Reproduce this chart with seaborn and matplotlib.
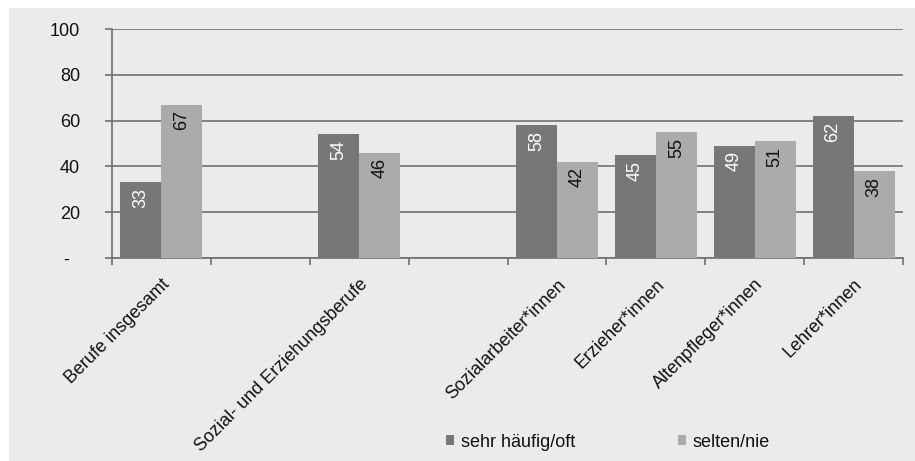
import numpy as np
import pandas as pd
import matplotlib
matplotlib.use("Agg")
import matplotlib.pyplot as plt
from matplotlib.patches import Rectangle
from matplotlib.ticker import FixedLocator
import seaborn as sns

# ── Data ───────────────────────────────────────────
slot_order = ["Berufe insgesamt", "_gap1", "Sozial- und Erziehungsberufe", "_gap2",
              "Sozialarbeiter*innen", "Erzieher*innen", "Altenpfleger*innen",
              "Lehrer*innen"]
categories = ["Berufe insgesamt", "Sozial- und Erziehungsberufe",
              "Sozialarbeiter*innen", "Erzieher*innen", "Altenpfleger*innen",
              "Lehrer*innen"]
oft    = [33, 54, 58, 45, 49, 62]
selten = [67, 46, 42, 55, 51, 38]
series = ["sehr häufig/oft", "selten/nie"]
y_ticks  = [0, 20, 40, 60, 80, 100]
y_labels = ["-  ", "20", "40", "60", "80", "100"]

df = pd.DataFrame({
    "Beruf": categories * 2,
    "Serie": [series[0]] * len(oft) + [series[1]] * len(selten),
    "Wert":  oft + selten,
})

DARK  = "#777777"
LIGHT = "#ababab"
GRID  = "#707070"

sns.set_theme(style="white")
plt.rcParams["font.family"] = ["Liberation Sans", "DejaVu Sans"]

fig = plt.figure(figsize=(9.15, 4.61), dpi=100, facecolor="white")
fig.patches.append(Rectangle((9 / 915, 0), 1, 1 - 8 / 461,
                             transform=fig.transFigure, facecolor="#ebebeb",
                             edgecolor="none", zorder=-10))
ax = fig.add_axes([112 / 915, 1 - 258 / 461, (903 - 112) / 915, (258 - 29) / 461])
ax.set_facecolor("none")

sns.barplot(data=df, x="Beruf", y="Wert", hue="Serie", order=slot_order,
            hue_order=series, palette=[DARK, LIGHT], width=0.83,
            linewidth=0, saturation=1, ax=ax, legend=False, zorder=3)

# ── Value labels ───────────────────────────────────
for cont, col in zip(ax.containers, ["white", "#111111"]):
    for bar, val in zip(cont, cont.datavalues):
        ax.annotate(f"{val:.0f}",
                    (bar.get_x() + bar.get_width() / 2, bar.get_height()),
                    xytext=(0, -4), textcoords="offset points",
                    ha="center", va="top", rotation=90,
                    fontsize=13, color=col, zorder=4)

# ── Axes ───────────────────────────────────────────
ax.set_ylim(0, 100)
ax.set_xlim(-0.5, len(slot_order) - 0.5)
ax.set_yticks(y_ticks)
ax.set_yticklabels(y_labels, fontsize=13, color="#111111")
ax.yaxis.grid(True, color=GRID, linewidth=1.2)
ax.set_axisbelow(True)
ax.tick_params(axis="y", length=5, width=1.2, color=GRID, pad=18, left=True)

ax.set_xticks(range(len(slot_order)))
ax.set_xticklabels(["" if s.startswith("_gap") else s for s in slot_order],
                   rotation=45, ha="right", rotation_mode="anchor",
                   fontsize=13, color="#111111")
ax.tick_params(axis="x", which="major", length=0, pad=13)
ax.xaxis.set_minor_locator(FixedLocator(np.arange(-0.5, len(slot_order), 1)))
ax.tick_params(axis="x", which="minor", length=5, width=1.2, color=GRID,
               bottom=True)

ax.set_xlabel("")
ax.set_ylabel("")
for side in ["top", "right"]:
    ax.spines[side].set_visible(False)
for side in ["left", "bottom"]:
    ax.spines[side].set_color(GRID)
    ax.spines[side].set_linewidth(1.2)

# ── Legend ─────────────────────────────────────────
handles = [Rectangle((0, 0), 1, 1, facecolor=c, edgecolor="none")
           for c in [DARK, LIGHT]]
fig.legend(handles, series, loc="center left",
           bbox_to_anchor=(446 / 915, 1 - 442 / 461), ncol=2, frameon=False,
           fontsize=13, handlelength=0.45, handleheight=0.45,
           handletextpad=0.4, columnspacing=5.65, borderaxespad=0,
           borderpad=0, labelcolor="#111111")

plt.savefig("out.png", dpi=100)
plt.close()
